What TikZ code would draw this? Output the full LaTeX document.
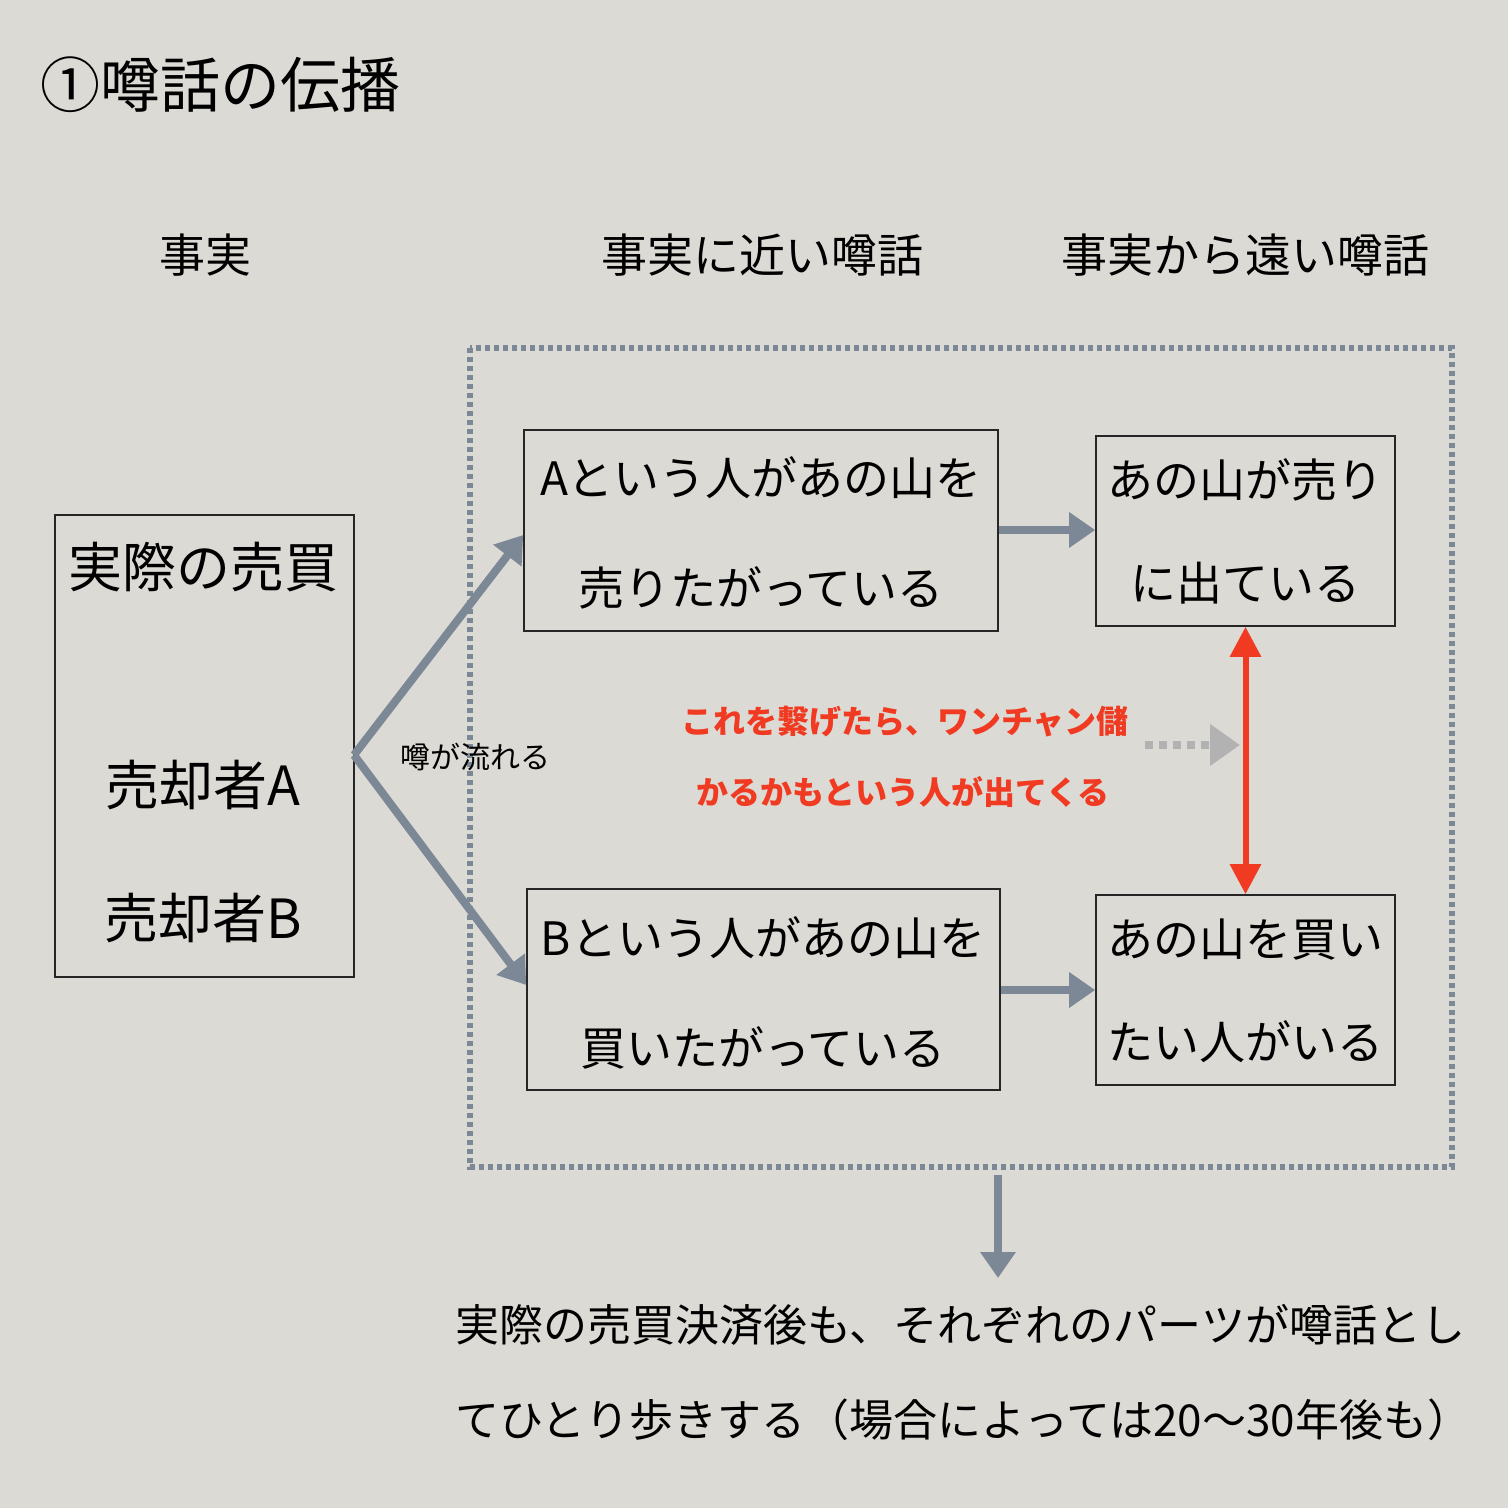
\documentclass[tikz,border=0pt]{standalone}
\usepackage{fontspec}
\setmainfont{Noto Sans CJK JP}
\usetikzlibrary{arrows.meta}
\definecolor{bg}{HTML}{DCDAD4}
\definecolor{ag}{HTML}{7D8896}
\definecolor{rd}{HTML}{F03A22}
\newcommand{\fsz}[1]{\fontsize{#1}{#1}\selectfont}
\tikzset{
  box/.style={draw=black!85,line width=1.6pt},
  garrow/.style={draw=ag,line width=8pt,-{Triangle[length=26pt,width=34pt]}},
  txt/.style={inner sep=0pt,anchor=center},
}
\begin{document}
\begin{tikzpicture}[x=1pt,y=-1pt]
\fill[bg] (0,0) rectangle (1508,1508);
\useasboundingbox (0,0) rectangle (1508,1508);
\node[txt,anchor=west] (title) at (40,85) {\fsz{60}①噂話の伝播};
\node[txt] (h1) at (205,255) {\fsz{46}事実};
\node[txt] (h2) at (762,255) {\fsz{46}事実に近い噂話};
\node[txt] (h3) at (1245,255) {\fsz{46}事実から遠い噂話};
\draw[ag,line width=6pt,dash pattern=on 5pt off 4pt] (470,348) rectangle (1452,1167);
\draw[box] (55,515) rectangle (354,977);
\node[txt] (f1) at (203,567) {\fsz{54}実際の売買};
\node[txt] (f2) at (203,785) {\fsz{54}売却者A};
\node[txt] (f3) at (203,918) {\fsz{54}売却者B};
\coordinate (src) at (354,755);
\node[box,minimum width=474pt,minimum height=201pt,inner sep=0pt] (A) at (761,530.5) {};
\node[txt] at (761,478) {\fsz{46}Aという人があの山を};
\node[txt] at (761,588) {\fsz{46}売りたがっている};
\node[box,minimum width=299pt,minimum height=190pt,inner sep=0pt] (R1) at (1245.5,531) {};
\node[txt] at (1245,480) {\fsz{46}あの山が売り};
\node[txt] at (1245,583) {\fsz{46}に出ている};
\node[box,minimum width=473pt,minimum height=201pt,inner sep=0pt] (B) at (763.5,989.5) {};
\node[txt] at (763,938) {\fsz{46}Bという人があの山を};
\node[txt] at (763,1048) {\fsz{46}買いたがっている};
\node[box,minimum width=299pt,minimum height=190pt,inner sep=0pt] (R2) at (1245.5,990) {};
\node[txt] at (1245,940) {\fsz{46}あの山を買い};
\node[txt] at (1245,1042) {\fsz{46}たい人がいる};
\draw[garrow] (src) -- (A.west |- 0,535);
\draw[garrow] (src) -- (B.west |- 0,985);
\node[txt] (lbl) at (475,757) {\fsz{30}噂が流れる};
\draw[garrow] (A.east |- 0,530) -- (R1.west |- 0,530);
\draw[garrow] (B.east |- 0,990) -- (R2.west |- 0,990);
\draw[rd,line width=6pt,{Triangle[length=30pt,width=30pt]}-{Triangle[length=30pt,width=30pt]}] (R1.south) -- (R2.north);
\node[txt,text=rd] (r1) at (905,722) {\fsz{32}\bfseries これを繋げたら、ワンチャン儲};
\node[txt,text=rd] (r2) at (903,792) {\fsz{32}\bfseries かるかもという人が出てくる};
\coordinate (dd) at (1240,745);
\draw[black!30,line width=8pt,dash pattern=on 8pt off 6pt,-{Triangle[length=30pt,width=40pt]}] (1145,745) -- (dd);
\coordinate (d1) at (998,1175);
\coordinate (d2) at (998,1278);
\draw[garrow] (d1) -- (d2);
\node[txt,anchor=west] (b1) at (455,1325) {\fsz{44}実際の売買決済後も、それぞれのパーツが噂話とし};
\node[txt,anchor=west] (b2) at (455,1420) {\fsz{44}てひとり歩きする（場合によっては20〜30年後も）};
\end{tikzpicture}
\end{document}
